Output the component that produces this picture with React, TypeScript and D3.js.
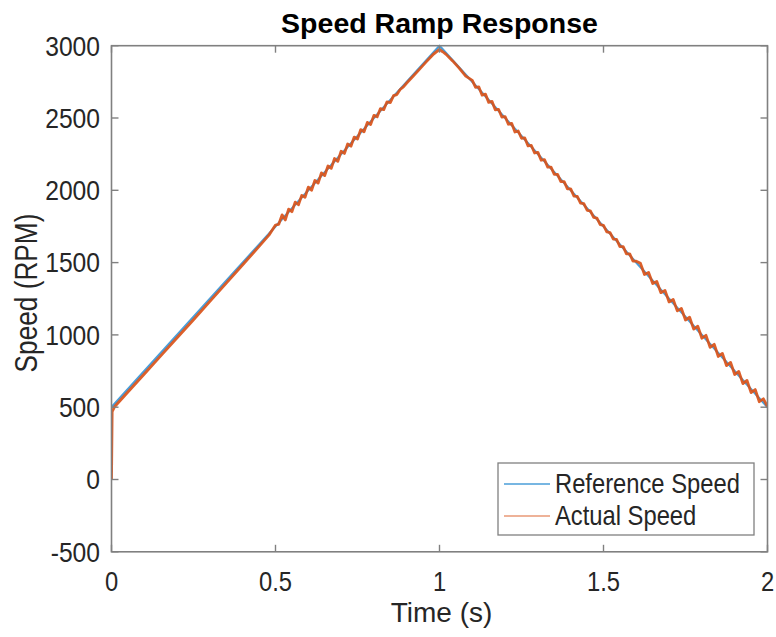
import React, { useEffect } from "react";
import * as d3 from "d3";

const refTime = [0, 1, 2];
const refSpeed = [500, 3000, 500];

const actualTime = [
  0, 0.002, 0.01, 0.05, 0.1, 0.15, 0.2, 0.25, 0.3, 0.35, 0.4, 0.45, 0.48,
  0.5, 0.51, 0.52, 0.53, 0.54, 0.55, 0.56, 0.57, 0.58, 0.59,
  0.6, 0.61, 0.62, 0.63, 0.64, 0.65, 0.66, 0.67, 0.68, 0.69,
  0.7, 0.71, 0.72, 0.73, 0.74, 0.75, 0.76, 0.77, 0.78, 0.79,
  0.8, 0.81, 0.82, 0.83, 0.84, 0.85, 0.86, 0.87, 0.88, 0.89,
  0.9, 0.92, 0.94, 0.96, 0.98, 1.0,
  1.01, 1.02, 1.04, 1.06, 1.08, 1.1, 1.11, 1.12, 1.13, 1.14, 1.15, 1.16, 1.17, 1.18, 1.19,
  1.2, 1.21, 1.22, 1.23, 1.24, 1.25, 1.26, 1.27, 1.28, 1.29,
  1.3, 1.31, 1.32, 1.33, 1.34, 1.35, 1.36, 1.37, 1.38, 1.39,
  1.4, 1.41, 1.42, 1.43, 1.44, 1.45, 1.46, 1.47, 1.48, 1.49,
  1.5, 1.51, 1.52, 1.53, 1.54, 1.55, 1.56, 1.57, 1.58, 1.59, 1.6,
  1.6125, 1.625, 1.6375, 1.65, 1.6625, 1.675, 1.6875, 1.7,
  1.7125, 1.725, 1.7375, 1.75, 1.7625, 1.775, 1.7875, 1.8,
  1.8125, 1.825, 1.8375, 1.85, 1.8625, 1.875, 1.8875, 1.9,
  1.9125, 1.925, 1.9375, 1.95, 1.9625, 1.975, 1.9875, 2.0,
];

const actualSpeed = [
  0, 470, 505, 605, 730, 855, 980, 1105, 1232, 1358, 1485, 1612, 1690,
  1760, 1765, 1830, 1795, 1870, 1852, 1918, 1900, 1965, 1952,
  2022, 2000, 2068, 2050, 2120, 2102, 2168, 2152, 2220, 2200,
  2270, 2255, 2320, 2305, 2368, 2355, 2420, 2405, 2470, 2455,
  2518, 2508, 2565, 2558, 2612, 2607, 2655, 2662, 2697, 2715,
  2742, 2790, 2840, 2890, 2938, 2975,
  2958, 2940, 2895, 2845, 2790, 2760, 2712, 2715, 2658, 2665, 2608, 2615, 2557, 2560, 2507,
  2510, 2457, 2463, 2403, 2410, 2360, 2362, 2307, 2310, 2258,
  2262, 2208, 2212, 2160, 2160, 2110, 2110, 2060, 2060, 2010,
  2010, 1960, 1958, 1912, 1908, 1862, 1858, 1812, 1808, 1762,
  1758, 1712, 1708, 1662, 1660, 1610, 1610, 1560, 1560, 1510, 1510,
  1495, 1418, 1432, 1355, 1370, 1292, 1308, 1228,
  1245, 1166, 1183, 1103, 1122, 1040, 1060, 977,
  997, 914, 935, 851, 872, 788, 810, 726,
  747, 663, 685, 601, 622, 538, 558, 505,
];

const xTicks = [0, 0.5, 1, 1.5, 2];
const yTicks = [-500, 0, 500, 1000, 1500, 2000, 2500, 3000];

const titleText = "Speed Ramp Response";
const xLabelText = "Time (s)";
const yLabelText = "Speed (RPM)";
const legendLabels = ["Reference Speed", "Actual Speed"];

const W = 776;
const H = 637;
const L = 111.5, R = 767.5, T = 45.7, B = 551.8;

const BLUE = "#4a9ed9";
const ORANGE = "#d95319";
const AXIS = "#808080";
const TEXT = "#262626";
const FONT = "'Liberation Sans', Arial, Helvetica, sans-serif";
const SX = 0.88;

export default function App() {
  useEffect(() => {
    document.body.style.margin = "0";
  }, []);

  const x = d3.scaleLinear().domain([0, 2]).range([L, R]);
  const y = d3.scaleLinear().domain([-500, 3000]).range([B, T]);

  const refPts: [number, number][] = refTime.map((t, i) => [t, refSpeed[i]]);
  const actPts: [number, number][] = actualTime.map((t, i) => [t, actualSpeed[i]]);
  const line = d3
    .line<[number, number]>()
    .x((d) => x(d[0]))
    .y((d) => y(d[1]));

  const tickLen = 7;
  const legX = 498, legY = 463, legW = 256, legH = 72;

  return (
    <svg width={W} height={H} style={{ display: "block", background: "#fff" }} fontFamily={FONT}>
      <rect x={0} y={0} width={W} height={H} fill="#fff" />
      <defs>
        <clipPath id="plotclip">
          <rect x={L} y={T - 2} width={R - L} height={B - T + 4} />
        </clipPath>
      </defs>

      {/* data */}
      <g clipPath="url(#plotclip)">
        <path d={line(refPts) || ""} fill="none" stroke={BLUE} strokeWidth={2.2} strokeLinejoin="round" />
        <path d={line(actPts) || ""} fill="none" stroke={ORANGE} strokeWidth={2.8} strokeLinejoin="round" strokeOpacity={0.92} />
      </g>

      {/* box */}
      <rect x={L} y={T} width={R - L} height={B - T} fill="none" stroke={AXIS} strokeWidth={1.6} />

      {/* x ticks */}
      {xTicks.map((t) => (
        <g key={"xt" + t}>
          <line x1={x(t)} x2={x(t)} y1={B} y2={B - tickLen} stroke={AXIS} strokeWidth={1.4} />
          <line x1={x(t)} x2={x(t)} y1={T} y2={T + tickLen} stroke={AXIS} strokeWidth={1.4} />
          <text transform={`translate(${x(t)},591) scale(${SX},1)`} textAnchor="middle" fontSize={27} fill={TEXT}>
            {String(t)}
          </text>
        </g>
      ))}

      {/* y ticks */}
      {yTicks.map((v) => (
        <g key={"yt" + v}>
          <line x1={L} x2={L + tickLen} y1={y(v)} y2={y(v)} stroke={AXIS} strokeWidth={1.4} />
          <line x1={R} x2={R - tickLen} y1={y(v)} y2={y(v)} stroke={AXIS} strokeWidth={1.4} />
          <text transform={`translate(100,${y(v)}) scale(${SX},1)`} dy="0.35em" textAnchor="end" fontSize={28} fill={TEXT}>
            {String(v)}
          </text>
        </g>
      ))}

      {/* title */}
      <text x={(L + R) / 2} y={33} textAnchor="middle" fontSize={28.5} fontWeight="bold" fill="#000">
        {titleText}
      </text>

      {/* axis labels */}
      <text x={(L + R) / 2 + 2} y={622} textAnchor="middle" fontSize={28} fill={TEXT}>
        {xLabelText}
      </text>
      <text
        transform={`translate(37, 293) rotate(-90) scale(0.82,1)`}
        textAnchor="middle"
        fontSize={32}
        fill={TEXT}
      >
        {yLabelText}
      </text>

      {/* legend */}
      <rect x={legX} y={legY} width={legW} height={legH} fill="#fff" stroke={AXIS} strokeWidth={1.3} />
      {legendLabels.map((lab, i) => {
        const ly = legY + 21 + i * 32;
        return (
          <g key={lab}>
            <line x1={legX + 6} x2={legX + 52} y1={ly} y2={ly} stroke={i === 0 ? BLUE : ORANGE} strokeWidth={1.3} strokeOpacity={i === 0 ? 1 : 0.6} />
            <text transform={`translate(${legX + 57},${ly}) scale(${SX},1)`} dy="0.35em" fontSize={27} fill={TEXT}>
              {lab}
            </text>
          </g>
        );
      })}
    </svg>
  );
}
